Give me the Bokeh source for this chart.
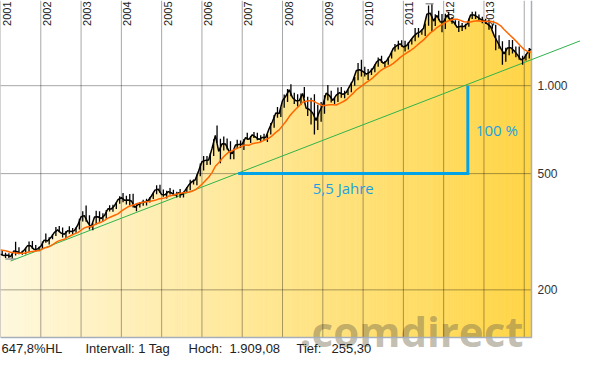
import numpy as np
from bokeh.plotting import figure
from bokeh.models import Range1d
from bokeh.core.properties import value
from bokeh.embed import file_html
from bokeh.resources import INLINE

# ---------------- data ----------------
year_ticks = [2001, 2002, 2003, 2004, 2005, 2006, 2007, 2008, 2009, 2010, 2011, 2012, 2013, 2014]
year_labels = ["2001", "2002", "2003", "2004", "2005", "2006", "2007",
               "2008", "2009", "2010", "2011", "2012", "2013"]
price_ticks = [200, 500, 1000]
price_tick_labels = ["200", "500", "1.000"]

# monthly price level, Jan 2001 .. Mar 2014
gold_mean = [
    265, 262, 263, 260, 272, 270, 267, 273, 283, 283, 275, 276,
    282, 296, 294, 302, 314, 321, 313, 310, 319, 317, 319, 333,
    356, 359, 340, 328, 355, 356, 351, 360, 379, 378, 389, 407,
    414, 405, 406, 403, 383, 392, 398, 400, 405, 420, 439, 442,
    424, 423, 434, 429, 422, 430, 424, 438, 456, 469, 476, 510,
    549, 555, 557, 610, 676, 596, 633, 632, 598, 585, 627, 629,
    631, 664, 655, 679, 667, 655, 665, 665, 712, 754, 806, 803,
    889, 922, 968, 909, 888, 889, 940, 839, 829, 806, 760, 816,
    858, 943, 924, 890, 928, 946, 934, 949, 996, 1043, 1127, 1134,
    1117, 1095, 1113, 1148, 1205, 1232, 1193, 1215, 1271, 1342, 1370, 1391,
    1356, 1372, 1424, 1473, 1510, 1529, 1572, 1756, 1772, 1665, 1739, 1652,
    1656, 1742, 1673, 1650, 1585, 1596, 1594, 1626, 1744, 1747, 1721, 1688,
    1670, 1627, 1593, 1487, 1414, 1343, 1286, 1347, 1349, 1316, 1275, 1225,
    1244, 1300, 1335,
]
# monthly high / low, Jan 2001 .. Feb 2014
gold_high = [
    272, 268, 267, 266, 292, 280, 272, 279, 293, 294, 285, 281,
    293, 312, 303, 310, 328, 331, 327, 318, 330, 326, 327, 350,
    372, 389, 360, 338, 373, 372, 366, 375, 390, 391, 398, 418,
    429, 420, 426, 427, 395, 400, 407, 410, 416, 430, 456, 458,
    441, 437, 446, 440, 433, 443, 432, 449, 476, 477, 497, 541,
    575, 574, 587, 656, 730, 658, 670, 660, 645, 607, 653, 649,
    657, 690, 672, 694, 690, 676, 684, 682, 745, 793, 845, 840,
    932, 975, 1011, 946, 935, 940, 989, 916, 910, 935, 860, 880,
    928, 1006, 961, 910, 986, 990, 960, 970, 1025, 1070, 1195, 1226,
    1161, 1140, 1145, 1181, 1249, 1265, 1212, 1250, 1310, 1388, 1425, 1430,
    1424, 1412, 1448, 1576, 1577, 1555, 1632, 1880, 1909, 1755, 1805, 1760,
    1764, 1791, 1719, 1674, 1664, 1640, 1630, 1695, 1790, 1796, 1754, 1723,
    1694, 1684, 1617, 1615, 1487, 1420, 1348, 1433, 1434, 1362, 1362, 1267,
    1280, 1345,
]
gold_low = [
    262, 257, 257, 255.3, 262, 265, 264, 265, 270, 276, 272, 271,
    276, 290, 286, 298, 306, 315, 302, 301, 311, 310, 314, 322,
    343, 342, 322, 320, 335, 342, 343, 350, 371, 370, 378, 394,
    399, 392, 390, 383, 372, 383, 388, 389, 398, 409, 425, 430,
    417, 411, 424, 421, 414, 413, 414, 430, 439, 459, 456, 490,
    512, 535, 536, 574, 638, 543, 600, 605, 560, 560, 609, 612,
    602, 652, 637, 662, 650, 640, 650, 642, 680, 718, 777, 782,
    840, 880, 920, 865, 848, 860, 910, 787, 736, 681, 705, 752,
    802, 890, 875, 865, 880, 909, 906, 930, 950, 1000, 1043, 1075,
    1075, 1045, 1088, 1112, 1160, 1197, 1155, 1180, 1240, 1310, 1330, 1360,
    1308, 1330, 1383, 1420, 1462, 1495, 1480, 1605, 1534, 1600, 1675, 1523,
    1563, 1700, 1630, 1612, 1527, 1540, 1560, 1590, 1690, 1690, 1673, 1635,
    1626, 1555, 1565, 1321, 1339, 1180, 1208, 1270, 1290, 1251, 1227, 1180,
    1219, 1240,
]
# 200-day moving average (orange), Jan 2001 .. Mar 2014
ma200 = [
    274, 273, 271, 269, 268, 267, 267, 267, 269, 270, 271, 272,
    274, 278, 280, 283, 288, 293, 296, 298, 303, 307, 311, 314,
    320, 326, 329, 329, 334, 338, 341, 346, 352, 356, 360, 364,
    372, 379, 385, 389, 392, 396, 398, 400, 401, 403, 405, 409,
    411, 413, 418, 421, 424, 427, 429, 431, 432, 435, 440, 449,
    460, 473, 486, 504, 530, 545, 563, 579, 592, 599, 607, 614,
    622, 627, 625, 633, 637, 639, 646, 654, 662, 675, 692, 706,
    730, 754, 784, 809, 832, 854, 877, 885, 888, 888, 875, 864,
    853, 857, 860, 861, 859, 870, 881, 895, 918, 941, 968, 987,
    1006, 1027, 1045, 1066, 1093, 1121, 1141, 1158, 1172, 1193, 1218, 1248,
    1272, 1295, 1317, 1341, 1372, 1404, 1434, 1475, 1516, 1543, 1581, 1609,
    1632, 1659, 1676, 1688, 1689, 1673, 1655, 1651, 1652, 1661, 1668, 1662,
    1662, 1660, 1661, 1650, 1632, 1603, 1558, 1518, 1480, 1443, 1404, 1364,
    1329, 1310, 1302,
]

hoch_datum, hoch_wert = 2011.65, 1909.08
tief_datum, tief_wert = 2001.25, 255.30
trend_x = [2001.25, 2015.40]
trend_y = [251, 1426]
verdopplung_x = [2006.9, 2012.6, 2012.6]
verdopplung_y = [500, 500, 1000]
info_texts = ["647,8%HL", "Intervall: 1 Tag", "Hoch:", "1.909,08", "Tief:", "255,30"]

# ---------------- geometry ----------------
W, H = 580, 361
PLOT_W, PLOT_H = 531, 337
X0, X_PLOT_END = 2001.0, 2014.18
px_per_year = PLOT_W / (X_PLOT_END - X0)
X_END = X0 + W / px_per_year
Y_TOP, Y_BOT = 1957.0, 137.4
dec_per_px = np.log10(Y_TOP / Y_BOT) / PLOT_H
Y_START = Y_BOT / 10 ** (dec_per_px * (H - PLOT_H))

months = [X0 + i / 12.0 for i in range(len(gold_mean))]

p = figure(width=W, height=H, x_range=Range1d(X0, X_END), y_range=Range1d(Y_START, Y_TOP),
           y_axis_type="log", x_axis_location=None, y_axis_location=None,
           output_backend="svg", toolbar_location=None, min_border=0)
p.grid.visible = False
p.outline_line_color = None
p.background_fill_color = "white"
p.border_fill_color = "white"

LAB_FONT = value("Liberation Sans")

# year labels (underneath the fill)
p.text(x=year_ticks[:-1], y=[Y_TOP] * len(year_labels), text=year_labels, angle=np.pi / 2,
       text_align="right", text_baseline="top", x_offset=2, y_offset=1,
       text_font=LAB_FONT, text_font_size="11px", text_color="#222222")

# gradient fill under the price curve
c0 = np.array([255, 248, 222])
c1 = np.array([255, 213, 70])
xs, ys, cols = [], [], []
for i in range(len(gold_mean) - 1):
    xs.append([months[i], months[i], months[i + 1], months[i + 1]])
    ys.append([Y_BOT, gold_mean[i], gold_mean[i + 1], Y_BOT])
    f = ((months[i] + months[i + 1]) / 2 - X0) / (X_PLOT_END - X0)
    c = c0 + (c1 - c0) * f
    cols.append("#%02x%02x%02x" % tuple(int(round(v)) for v in c))
p.patches(xs=xs, ys=ys, fill_color=cols, line_color=cols, line_width=0.8)

# watermark
p.text(x=[X_PLOT_END], y=[Y_BOT], text=[".comdirect"], x_offset=-8, y_offset=-7,
       text_align="right", text_baseline="alphabetic", text_font=value("Open Sans"),
       text_font_style="bold", text_font_size="42px", text_color="#786e50", text_alpha=0.45)

# grid
p.segment(x0=year_ticks, y0=[Y_BOT] * len(year_ticks), x1=year_ticks, y1=[Y_TOP] * len(year_ticks),
          line_color="black", line_alpha=0.35, line_width=1)
p.segment(x0=[X0] * 3, y0=price_ticks, x1=[X_PLOT_END] * 3, y1=price_ticks,
          line_color="black", line_alpha=0.35, line_width=1)
# frame border (right / bottom)
p.line(x=[X0, X_PLOT_END, X_PLOT_END], y=[Y_BOT, Y_BOT, Y_TOP], line_color="#a6aebb", line_width=1.5)

# trend line
p.line(trend_x, trend_y, line_color="#2fb34c", line_width=1)

# price
hl_x = [months[i] + 1 / 24.0 for i in range(len(gold_high))]
p.segment(x0=hl_x, y0=gold_low, x1=hl_x, y1=gold_high, line_color="black", line_width=1.3)
p.line(months, gold_mean, line_color="black", line_width=1.5)

# moving average
p.line(months, ma200, line_color="#ff6600", line_width=1.5)

# high / low markers
p.segment(x0=[hoch_datum - 0.1, tief_datum - 0.13], y0=[hoch_wert, tief_wert],
          x1=[hoch_datum + 0.1, tief_datum + 0.13], y1=[hoch_wert, tief_wert],
          line_color="#9a9a9a", line_width=1.5)

# doubling annotation
p.line(verdopplung_x, verdopplung_y, line_color="#00a3e8", line_width=3, line_join="miter")
p.text(x=[2008.75], y=[verdopplung_y[0]], text=["5,5 Jahre"], y_offset=14,
       text_align="left", text_baseline="middle", text_font=value("Open Sans"),
       text_font_size="15px", text_color="#1ba1e2")
p.text(x=[verdopplung_x[1]], y=[(verdopplung_y[0] * verdopplung_y[2]) ** 0.5], text=["100 %"],
       x_offset=8, text_align="left", text_baseline="middle", text_font=value("Open Sans"),
       text_font_size="15px", text_color="#1ba1e2")

# price labels on the right
p.text(x=[X_PLOT_END] * 3, y=price_ticks, text=price_tick_labels, x_offset=6,
       text_align="left", text_baseline="middle", text_font=LAB_FONT,
       text_font_size="12px", text_color="#333333")

# info line at the bottom
p.text(x=[X0] * len(info_texts), y=[Y_BOT] * len(info_texts), text=info_texts,
       x_offset=[1, 85, 188, 229, 296, 331], y_offset=11,
       text_align="left", text_baseline="middle", text_font=LAB_FONT,
       text_font_size="13px", text_color="#222222")

open("out.html", "w").write(file_html(p, INLINE))
